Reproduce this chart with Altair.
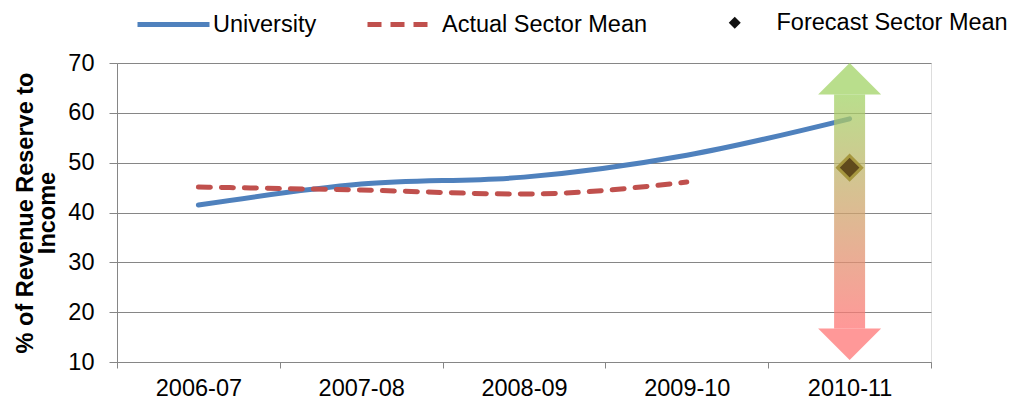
import altair as alt
import pandas as pd

# ---- data ----
years = ["2006-07", "2007-08", "2008-09", "2009-10", "2010-11"]
university = [41.5, 45.7, 47.1, 51.5, 58.8]

sector_years = ["2006-07", "2007-08", "2008-09", "2009-10"]
sector_mean = [45.1, 44.5, 43.7, 46.1]

forecast_year = ["2010-11"]
forecast_mean = [49.0]

range_year = ["2010-11"]
range_high = [70.0]
range_low = [10.4]

y_ticks = [10, 20, 30, 40, 50, 60, 70]

FONT = "Liberation Sans"
GRID = "#868686"
BLUE = "#4F81BD"
RED = "#C0504D"
GREEN_HEAD = "#A2D366"
RED_HEAD = "#FF7676"
FS = 23.5

uni_df = pd.DataFrame({"year": years, "value": university, "series": "University"})
sec_df = pd.DataFrame({"year": sector_years, "value": sector_mean, "series": "Actual Sector Mean"})
fc_df = pd.DataFrame({"year": forecast_year, "value": forecast_mean, "series": "Forecast Sector Mean"})
rng_df = pd.DataFrame({"year": range_year, "high": range_high, "low": range_low})

xscale = alt.Scale(type="band", domain=years, paddingInner=0, paddingOuter=0)
yscale = alt.Scale(domain=[10, 70], nice=False, zero=False)

x_enc = alt.X(
    "year:N",
    scale=xscale,
    axis=alt.Axis(
        title=None, tickBand="extent", grid=False, labelAngle=0,
        domainColor=GRID, tickColor=GRID, tickSize=6, labelPadding=8,
        labelFontSize=FS, labelColor="black", labelFont=FONT,
    ),
)
y_enc = alt.Y(
    "value:Q",
    scale=yscale,
    axis=alt.Axis(
        values=y_ticks, grid=True, gridColor=GRID, domainColor=GRID,
        tickColor=GRID, tickSize=8, labelPadding=15, labelFontSize=FS,
        labelColor="black", labelFont=FONT,
        title=["% of Revenue Reserve to", "Income"],
        titleFont=FONT, titleFontSize=23.5, titleFontWeight="bold",
        titleColor="black", titleAngle=270, titleX=-85, titleY=149.5,
        titleAlign="center", titleBaseline="alphabetic", titleLineHeight=22,
    ),
)

uni_line = alt.Chart(uni_df).mark_line(
    interpolate="monotone", strokeWidth=5, strokeCap="round"
).encode(
    x=x_enc,
    y=y_enc,
    color=alt.Color(
        "series:N",
        scale=alt.Scale(domain=["University"], range=[BLUE]),
        legend=alt.Legend(
            orient="none", legendX=18, legendY=-77, title=None,
            symbolType="stroke", symbolSize=5184, symbolStrokeWidth=5,
            labelFontSize=FS, labelFont=FONT, labelColor="black",
            labelOffset=1, labelLimit=500, padding=0,
        ),
    ),
)

sec_line = alt.Chart(sec_df).mark_line(
    interpolate="monotone", strokeWidth=5, strokeCap="round", strokeDash=[12, 11]
).encode(
    x=alt.X("year:N", scale=xscale),
    y=alt.Y("value:Q", scale=yscale),
    color=alt.Color(
        "series:N",
        scale=alt.Scale(domain=["Actual Sector Mean"], range=[RED]),
        legend=alt.Legend(
            orient="none", legendX=248, legendY=-72, title=None,
            symbolType="stroke", symbolSize=3844, symbolStrokeWidth=5,
            symbolDash=[14, 9],
            labelFontSize=FS, labelFont=FONT, labelColor="black",
            labelOffset=10, labelLimit=500, padding=0,
        ),
    ),
)

shaft = alt.Chart(rng_df).mark_bar(
    size=31, yOffset=31.5, y2Offset=-31.5, opacity=0.75,
    color=alt.Gradient(
        gradient="linear", x1=0, x2=0, y1=0, y2=1,
        stops=[alt.GradientStop(color=GREEN_HEAD, offset=0),
               alt.GradientStop(color=RED_HEAD, offset=1)],
    ),
).encode(
    x=alt.X("year:N", scale=xscale),
    y=alt.Y("high:Q", scale=yscale),
    y2="low:Q",
)

head_up = alt.Chart(rng_df).mark_point(
    shape="M-1,1L0,0L1,1Z", size=3969, filled=True, fill=GREEN_HEAD,
    strokeWidth=0, opacity=0.75,
).encode(
    x=alt.X("year:N", scale=xscale),
    y=alt.Y("high:Q", scale=yscale),
)

head_down = alt.Chart(rng_df).mark_point(
    shape="M-1,-1L0,0L1,-1Z", size=3969, filled=True, fill=RED_HEAD,
    strokeWidth=0, opacity=0.75,
).encode(
    x=alt.X("year:N", scale=xscale),
    y=alt.Y("low:Q", scale=yscale),
)

diamond = alt.Chart(fc_df).mark_point(
    shape="diamond", size=576, filled=True, fill="#604A1C",
    stroke="#A6973F", strokeWidth=3, opacity=1,
).encode(
    x=alt.X("year:N", scale=xscale),
    y=alt.Y("value:Q", scale=yscale),
)

diamond_legend = alt.Chart(fc_df).mark_point(
    filled=True, fill="#111111", stroke="#8DB53C", strokeWidth=2, opacity=0,
).encode(
    x=alt.X("year:N", scale=xscale),
    y=alt.Y("value:Q", scale=yscale),
    shape=alt.Shape(
        "series:N",
        scale=alt.Scale(domain=["Forecast Sector Mean"], range=["diamond"]),
        legend=alt.Legend(
            orient="none", legendX=606, legendY=-52, title=None,
            symbolSize=144, symbolOpacity=1, symbolFillColor="#111111",
            symbolStrokeColor="#8DB53C", symbolStrokeWidth=2,
            labelFontSize=FS, labelFont=FONT, labelColor="black",
            labelOffset=30, labelLimit=500, padding=0,
        ),
    ),
)

chart = alt.layer(
    uni_line, sec_line, shaft, head_up, head_down, diamond, diamond_legend
).resolve_scale(
    color="independent"
).properties(
    width=814, height=299,
    autosize=alt.AutoSizeParams(type="none"),
    padding={"left": 117, "top": 63, "right": 82, "bottom": 39},
).configure_view(
    stroke="transparent"
).configure(
    font=FONT, background="white"
)

chart.save("out.html", embed_options={"renderer": "svg", "actions": False})
